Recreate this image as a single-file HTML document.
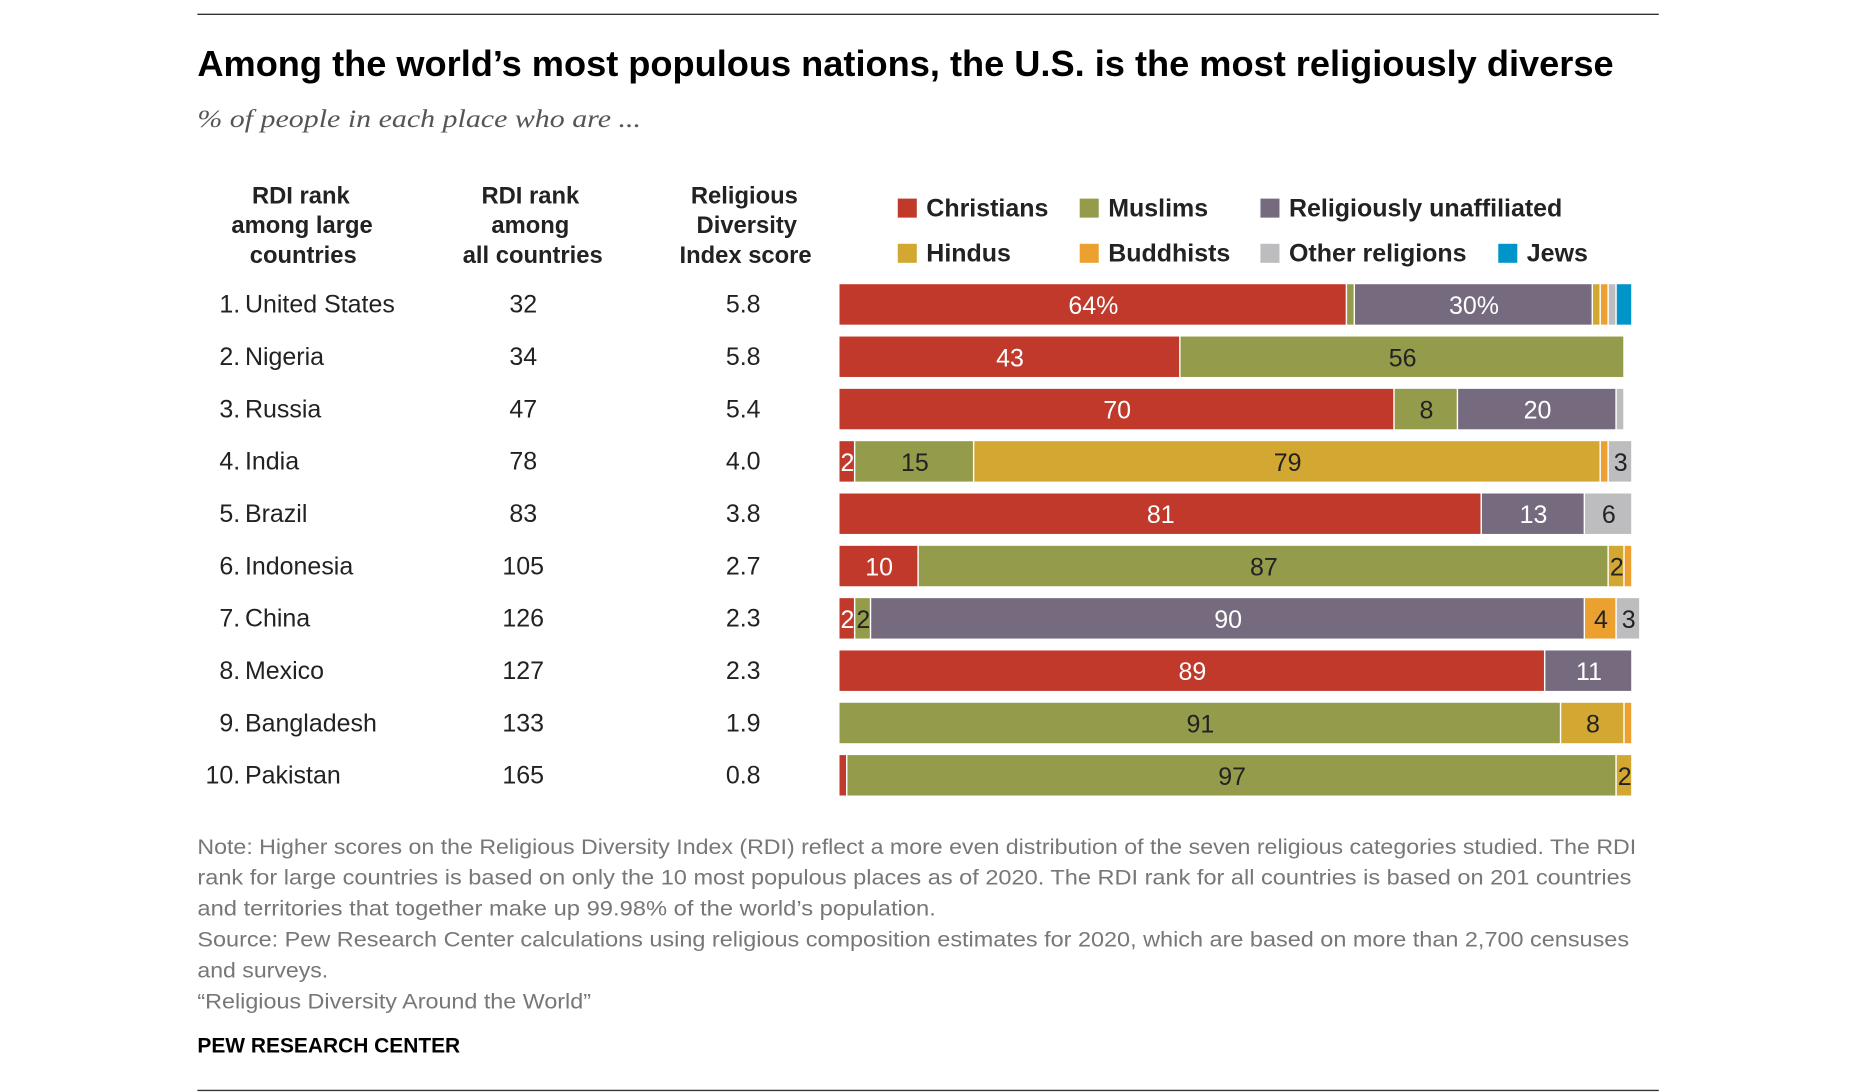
<!DOCTYPE html>
<html><head><meta charset="utf-8"><style>
html,body{margin:0;padding:0;background:#fff}
svg{display:block}
text{font-family:"Liberation Sans Narrow","Liberation Sans",sans-serif}
</style></head><body>
<svg id="chart" width="1855" height="1092" viewBox="0 0 1560 918.3" xmlns="http://www.w3.org/2000/svg">
<line x1="166" y1="12" x2="1395" y2="12" stroke="#333" stroke-width="1.2"/>
<text x="166" y="64" font-size="30" font-weight="bold" fill="#000" textLength="1191" lengthAdjust="spacingAndGlyphs">Among the world’s most populous nations, the U.S. is the most religiously diverse</text>
<text x="166" y="107" font-size="21" font-style="italic" fill="#555" style="font-family:'Liberation Serif',serif" textLength="373" lengthAdjust="spacingAndGlyphs">% of people in each place who are ...</text>
<g font-size="20" font-weight="bold" fill="#222" text-anchor="middle">
<text x="253" y="171">RDI rank</text><text x="254" y="196">among large</text><text x="255" y="221">countries</text>
<text x="446" y="171">RDI rank</text><text x="446" y="196">among</text><text x="448" y="221">all countries</text>
<text x="626" y="171">Religious</text><text x="628" y="196">Diversity</text><text x="627" y="221">Index score</text>
</g>
<g id="legend"></g>
<g id="rows"></g>
<g font-size="17.5" fill="#777">
<text x="166" y="718" textLength="1210" lengthAdjust="spacingAndGlyphs">Note: Higher scores on the Religious Diversity Index (RDI) reflect a more even distribution of the seven religious categories studied. The RDI</text>
<text x="166" y="744" textLength="1206" lengthAdjust="spacingAndGlyphs">rank for large countries is based on only the 10 most populous places as of 2020. The RDI rank for all countries is based on 201 countries</text>
<text x="166" y="770" textLength="621" lengthAdjust="spacingAndGlyphs">and territories that together make up 99.98% of the world’s population.</text>
<text x="166" y="796" textLength="1204" lengthAdjust="spacingAndGlyphs">Source: Pew Research Center calculations using religious composition estimates for 2020, which are based on more than 2,700 censuses</text>
<text x="166" y="822" textLength="110" lengthAdjust="spacingAndGlyphs">and surveys.</text>
<text x="166" y="848" textLength="331" lengthAdjust="spacingAndGlyphs">“Religious Diversity Around the World”</text>
</g>
<text x="166" y="885" font-size="18" font-weight="bold" fill="#000" textLength="221" lengthAdjust="spacingAndGlyphs">PEW RESEARCH CENTER</text>
<line x1="166" y1="917" x2="1395" y2="917" stroke="#333" stroke-width="1.2"/>
</svg>
<script>
const countries=["United States","Nigeria","Russia","India","Brazil","Indonesia","China","Mexico","Bangladesh","Pakistan"];
const rdiRankAll=["32","34","47","78","83","105","126","127","133","165"];
const rdiScore=["5.8","5.8","5.4","4.0","3.8","2.7","2.3","2.3","1.9","0.8"];
const seriesNames=["Christians","Muslims","Religiously unaffiliated","Hindus","Buddhists","Other religions","Jews"];
const christians=[64,43,70,2,81,10,2,89,0,1];
const muslims=[1,56,8,15,0,87,2,0,91,97];
const unaffiliated=[30,0,20,0,13,0,90,11,0,0];
const hindus=[1,0,0,79,0,2,0,0,8,2];
const buddhists=[1,0,0,1,0,1,4,0,1,0];
const otherRel=[1,0,1,3,6,0,3,0,0,0];
const jews=[2,0,0,0,0,0,0,0,0,0];
const series=[christians,muslims,unaffiliated,hindus,buddhists,otherRel,jews];
const colors=["#c0392b","#949c4b","#756a7e","#d2a732","#eba02f","#bdbdbf","#0095c8"];
const labelColors=["#fff","#222","#fff","#222","#222","#222","#222"];
const NS="http://www.w3.org/2000/svg";
const x0=706, pxPerPct=6.67, rowY0=256, rowStep=44, barH=34;
const xScale=v=>x0+v*pxPerPct;
const yScale=i=>rowY0+i*rowStep;
function mk(tag,attrs,parent){const e=document.createElementNS(NS,tag);for(const k in attrs)e.setAttribute(k,attrs[k]);parent.appendChild(e);return e;}
const leg=document.getElementById('legend');
const legPos=[[755,175],[908,175],[1060,175],[755,213],[908,213],[1060,213],[1260,213]];
seriesNames.forEach((n,i)=>{
  const g=mk('g',{},leg);
  
  
  mk('rect',{x:legPos[i][0],y:legPos[i][1]-8,width:16,height:16,fill:colors[i]},g);
  const t=mk('text',{x:legPos[i][0]+24,y:legPos[i][1]+7,'font-size':21,'font-weight':'bold',fill:'#222'},g);
  t.textContent=n;
});
const rows=document.getElementById('rows');
countries.forEach((c,i)=>{
  const y=yScale(i);
  const g=mk('g',{},rows);
  
  
  const r=mk('text',{x:202,y:y+7,'font-size':21,fill:'#222','text-anchor':'end'},g);r.textContent=(i+1)+".";
  const n=mk('text',{x:206,y:y+7,'font-size':21,fill:'#222'},g);n.textContent=c;
  const a=mk('text',{x:440,y:y+7,'font-size':21,fill:'#222','text-anchor':'middle'},g);a.textContent=rdiRankAll[i];
  const s=mk('text',{x:625,y:y+7,'font-size':21,fill:'#222','text-anchor':'middle'},g);s.textContent=rdiScore[i];
  let cum=0;
  series.forEach((arr,k)=>{
    const v=arr[i]; if(!v) return;
    const xa=xScale(cum), xb=xScale(cum+v); cum+=v;
    const rect=mk('rect',{x:xa,y:y-barH/2,width:Math.max(xb-xa-1.2,0.8),height:barH,fill:colors[k]},g);
    
    
    if(v>=2){
      const lbl=(i===0)?v+'%':String(v);
      if(i===0 && v<10) return;
      const t=mk('text',{x:(xa+xb)/2,y:y+8,'font-size':21,fill:labelColors[k],'text-anchor':'middle'},g);
      
      
      t.textContent=lbl;
    }
  });
});
</script>
</body></html>
